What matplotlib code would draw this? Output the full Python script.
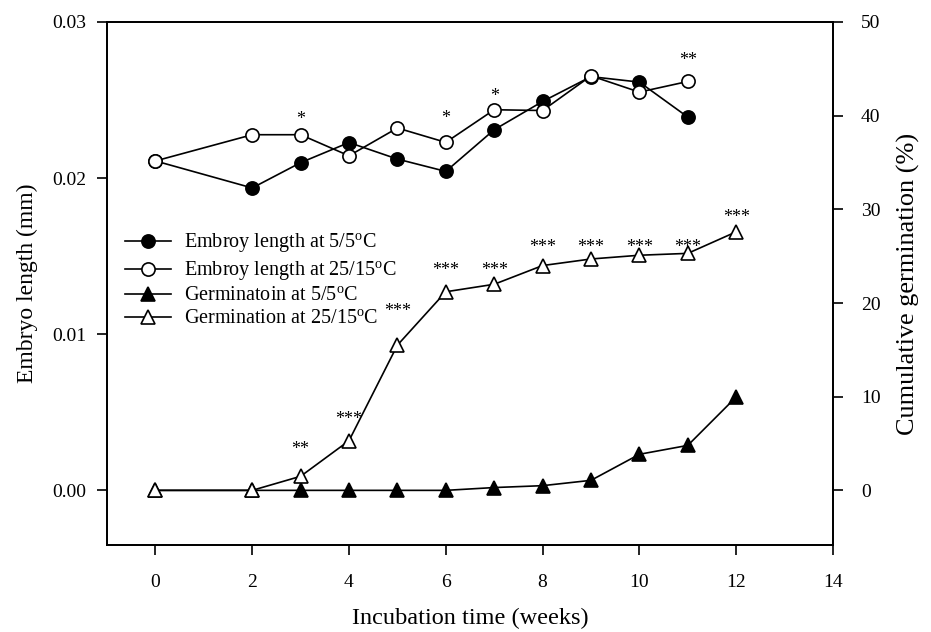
import matplotlib
matplotlib.use("Agg")
import matplotlib.pyplot as plt

plt.rcParams['font.family'] = ['Liberation Serif', 'DejaVu Serif']
plt.rcParams['mathtext.fontset'] = 'custom'
plt.rcParams['mathtext.rm'] = 'Liberation Serif'

# Embryo length (mm), left axis
weeks_embryo = [0, 2, 3, 4, 5, 6, 7, 8, 9, 10, 11]
embryo_5 = [0.0211, 0.01937, 0.02099, 0.02228, 0.02122, 0.02043, 0.0231, 0.02491, 0.0265, 0.02615, 0.02391]
embryo_25 = [0.0211, 0.02278, 0.02278, 0.02143, 0.02321, 0.02229, 0.02438, 0.02433, 0.02655, 0.02551, 0.02619]

# Cumulative germination (%), right axis
weeks_germ = [0, 2, 3, 4, 5, 6, 7, 8, 9, 10, 11, 12]
germ_5 = [0, 0, 0, 0, 0, 0, 0.3, 0.5, 1.07, 3.85, 4.8, 9.97]
germ_25 = [0, 0, 1.5, 5.3, 15.5, 21.2, 22.0, 24.0, 24.7, 25.1, 25.3, 27.6]

# significance labels
embryo_star_x = [3, 6, 7, 11]
embryo_star_lbl = ['*', '*', '*', '**']
embryo_star_y = [0.0240, 0.0241, 0.0255, 0.0278]
germ_star_x = [3, 4, 5, 6, 7, 8, 9, 10, 11, 12]
germ_star_lbl = ['**', '***', '***', '***', '***', '***', '***', '***', '***', '***']
germ_star_y = [4.8, 8.0, 19.55, 23.9, 23.9, 26.4, 26.4, 26.4, 26.4, 29.6]

x_ticks = [0, 2, 4, 6, 8, 10, 12, 14]
left_ticks = [0.00, 0.01, 0.02, 0.03]
right_ticks = [0, 10, 20, 30, 40, 50]

fig = plt.figure(figsize=(9.31, 6.32), dpi=100)
ax = fig.add_axes([107/931, 87/632, 726/931, 523/632])
ax2 = ax.twinx()

lw = 1.2
ms = 9.5
l1, = ax.plot(weeks_embryo, embryo_5, '-o', color='black', mfc='black', mec='black', lw=lw, ms=ms, mew=1.2,
              label='Embroy length at 5/5$^{\\rm o}$C', zorder=3)
l2, = ax.plot(weeks_embryo, embryo_25, '-o', color='black', mfc='white', mec='black', lw=lw, ms=ms, mew=1.2,
              label='Embroy length at 25/15$^{\\rm o}$C', zorder=4)
l3, = ax2.plot(weeks_germ, germ_5, '-^', color='black', mfc='black', mec='black', lw=lw, ms=ms + 0.5, mew=1.2,
               label='Germinatoin at 5/5$^{\\rm o}$C', zorder=3)
l4, = ax2.plot(weeks_germ, germ_25, '-^', color='black', mfc='white', mec='black', lw=lw, ms=ms + 0.5, mew=1.2,
               label='Germination at 25/15$^{\\rm o}$C', zorder=4)

star_fs = 13
for x, y, s in zip(embryo_star_x, embryo_star_y, embryo_star_lbl):
    ax.annotate(s, (x, y), xytext=(0, -3), textcoords='offset points',
                ha='center', va='center', fontsize=star_fs)
for x, y, s in zip(germ_star_x, germ_star_y, germ_star_lbl):
    ax2.annotate(s, (x, y), xytext=(0, -3), textcoords='offset points',
                 ha='center', va='center', fontsize=star_fs)

ax.set_xlim(-1, 14)
ax.set_ylim(-0.0035, 0.03)
ax2.set_ylim(-0.0035 / 0.03 * 50, 50)
ax.set_xticks(x_ticks)
ax.set_yticks(left_ticks)
ax.set_yticklabels(['%.2f' % v for v in left_ticks])
ax2.set_yticks(right_ticks)

for a in (ax, ax2):
    for sp in a.spines.values():
        sp.set_linewidth(1.3)
ax.tick_params(axis='both', direction='out', length=7, width=1.2, labelsize=14, pad=8)
ax2.tick_params(axis='y', direction='out', length=7, width=1.2, labelsize=14, pad=13)
ax.tick_params(axis='x', pad=14)

ax.set_xlabel('Incubation time (weeks)', fontsize=17.5, labelpad=12)
ax.set_ylabel('Embryo length (mm)', fontsize=17, labelpad=10)
ax2.set_ylabel('Cumulative germination (%)', fontsize=18.9, labelpad=12)

ax.legend(handles=[l1, l2, l3, l4], loc='upper left', bbox_to_anchor=(0.025, 0.600),
          frameon=False, fontsize=14.5, handlelength=2.3, handletextpad=0.6,
          labelspacing=0.2, borderpad=0, borderaxespad=0)

fig.savefig('out.png', dpi=100)
